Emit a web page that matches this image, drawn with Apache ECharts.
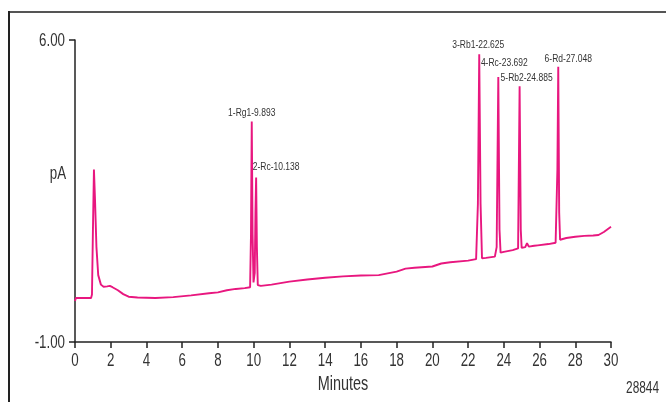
<!DOCTYPE html>
<html>
<head>
<meta charset="utf-8">
<script src="https://cdn.jsdelivr.net/npm/echarts@6/dist/echarts.min.js"></script>
<style>
html,body{margin:0;padding:0;background:#fff;}
#chart{width:666px;height:402px;}
</style>
</head>
<body>
<div id="chart"></div>
<script>
// Chromatogram trace: retention time (min) and signal (pA)
var times = [0, 0.05, 0.9, 0.95, 1.0, 1.06, 1.12, 1.2, 1.3, 1.45, 1.6, 1.8, 1.95, 2.1, 2.4, 2.7, 3.0, 3.5, 4.5, 5.5, 6.5, 7.5, 8.0, 8.5, 9.0, 9.5, 9.8,
  9.85, 9.893, 9.94, 9.99, 10.06, 10.1, 10.138, 10.18, 10.23, 10.4, 11, 12, 13, 14, 15, 16, 17, 18, 18.5, 19, 20, 20.5, 21, 22, 22.45,
  22.55, 22.625, 22.7, 22.78, 23.0, 23.5, 23.6, 23.692, 23.76, 23.82, 24.0, 24.5, 24.8, 24.885, 24.95, 25.0, 25.2, 25.3, 25.4, 25.7, 25.9, 26.5, 26.9,
  27.0, 27.048, 27.1, 27.15, 27.5, 28, 28.5, 29, 29.3, 29.6, 30];
var signal = [-0.05, 0.02, 0.02, 0.1, 1.5, 3.0, 2.3, 1.2, 0.55, 0.33, 0.28, 0.29, 0.3, 0.27, 0.2, 0.11, 0.05, 0.03, 0.02, 0.04, 0.08, 0.13, 0.15, 0.2, 0.23, 0.25, 0.27,
  1.5, 4.11, 1.5, 0.38, 0.6, 2.0, 2.81, 1.2, 0.32, 0.3, 0.33, 0.4, 0.45, 0.49, 0.52, 0.54, 0.55, 0.63, 0.7, 0.72, 0.75, 0.82, 0.85, 0.885, 0.92,
  2.2, 5.67, 2.2, 0.94, 0.95, 0.98, 1.2, 5.14, 1.6, 1.07, 1.09, 1.13, 1.17, 4.93, 1.6, 1.18, 1.2, 1.29, 1.21, 1.23, 1.24, 1.27, 1.3,
  3.0, 5.38, 2.0, 1.37, 1.41, 1.44, 1.46, 1.47, 1.48, 1.55, 1.67];

// Peak annotations
var peakNames = ['1-Rg1-9.893', '2-Rc-10.138', '3-Rb1-22.625', '4-Rc-23.692', '5-Rb2-24.885', '6-Rd-27.048'];
var peakTimes = [9.893, 10.138, 22.625, 23.692, 24.885, 27.048];
var peakHeights = [4.11, 2.81, 5.67, 5.14, 4.93, 5.38];

var xTicks = [0, 2, 4, 6, 8, 10, 12, 14, 16, 18, 20, 22, 24, 26, 28, 30];
var yTicks = [-1, 6];
var yTickLabels = ['-1.00', '6.00'];

var labelOffsets = [[0, -8.5], [20, -10.5], [-1, -9.5], [6, -14], [7, -8], [10, -7.5]];

var FONT = "'Liberation Sans', Arial, sans-serif";
var SQ = 0.74; // horizontal condensing of the narrow typeface
var lineColor = '#e8177f';
var textColor = '#333';

var chart = echarts.init(document.getElementById('chart'), null, {renderer: 'canvas'});

var traceData = times.map(function (t, i) { return [t, signal[i]]; });

chart.setOption({
  animation: false,
  backgroundColor: '#fff',
  grid: { left: 75, right: 55, top: 40, bottom: 60, containLabel: false },
  xAxis: {
    type: 'value', min: 0, max: 30, interval: 2,
    axisLine: { show: true, onZero: false, lineStyle: { color: '#222', width: 1.5 } },
    axisTick: { show: true, length: 6, lineStyle: { color: '#222', width: 1.5 } },
    axisLabel: { show: false },
    splitLine: { show: false }
  },
  yAxis: {
    type: 'value', min: -1, max: 6, interval: 7,
    axisLine: { show: true, onZero: false, lineStyle: { color: '#222', width: 1.5 } },
    axisTick: { show: true, length: 6, lineStyle: { color: '#222', width: 1.5 } },
    axisLabel: { show: false },
    splitLine: { show: false }
  },
  series: [
    {
      type: 'line', data: traceData, showSymbol: false, symbol: 'none',
      lineStyle: { color: lineColor, width: 1.9 }, z: 2
    }
  ]
});

function txt(text, x, y, size, align, vAlign) {
  return {
    type: 'text', x: x, y: y, scaleX: SQ, scaleY: 1, z: 10,
    style: { text: text, font: size + 'px ' + FONT, fill: textColor, align: align, verticalAlign: vAlign }
  };
}

var g = [
  { type: 'line', shape: { x1: 9, y1: 12, x2: 666, y2: 12 }, style: { stroke: '#555', lineWidth: 2 } },
  { type: 'line', shape: { x1: 9, y1: 11, x2: 9, y2: 402 }, style: { stroke: '#222', lineWidth: 2 } }
];

xTicks.forEach(function (t) {
  var p = chart.convertToPixel({ gridIndex: 0 }, [t, -1]);
  g.push(txt(String(t), p[0], p[1] + 10, 18, 'center', 'top'));
});
yTicks.forEach(function (v, i) {
  var p = chart.convertToPixel({ gridIndex: 0 }, [0, v]);
  g.push(txt(yTickLabels[i], p[0] - 10, p[1] + 1, 18, 'right', 'middle'));
});
peakTimes.forEach(function (t, i) {
  var p = chart.convertToPixel({ gridIndex: 0 }, [t, peakHeights[i]]);
  g.push(txt(peakNames[i], p[0] + labelOffsets[i][0], p[1] + labelOffsets[i][1], 11.5, 'center', 'middle'));
});
var mid = chart.convertToPixel({ gridIndex: 0 }, [15, -1]);
g.push(txt('Minutes', mid[0], mid[1] + 43, 19.5, 'center', 'middle'));
var pa = chart.convertToPixel({ gridIndex: 0 }, [0, 2.9]);
g.push(txt('pA', pa[0] - 17, pa[1], 18, 'center', 'middle'));
g.push(txt('28844', 659, 389, 16, 'right', 'middle'));

chart.setOption({ graphic: g });
</script>
</body>
</html>
